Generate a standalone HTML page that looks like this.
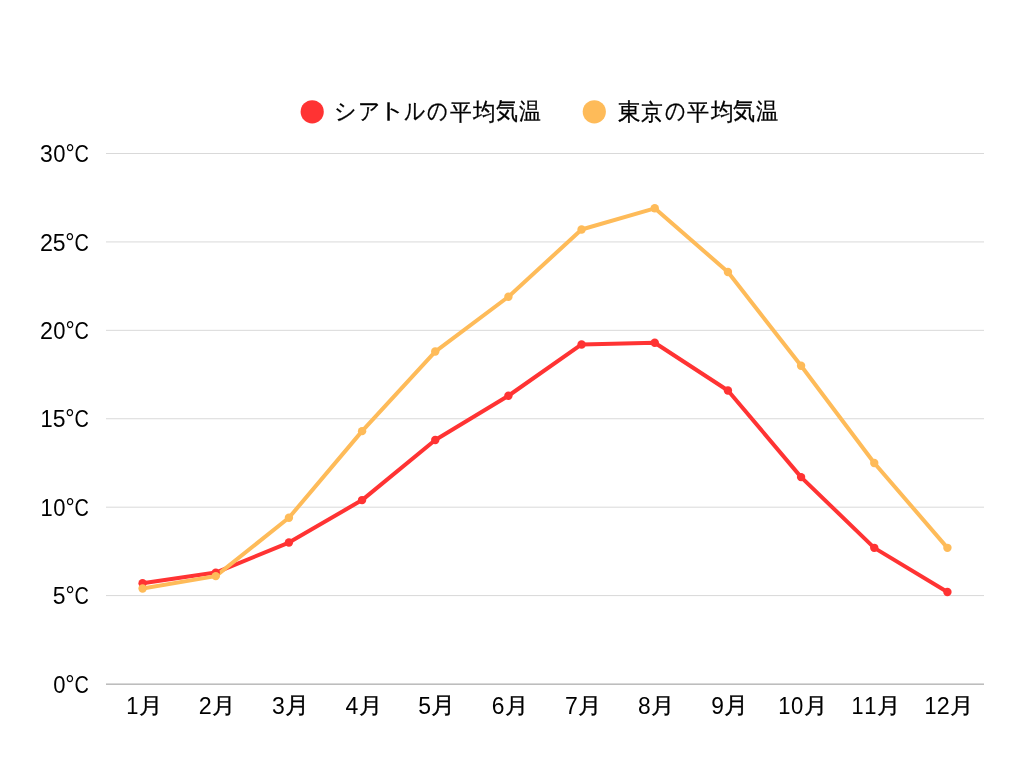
<!DOCTYPE html>
<html lang="ja"><head><meta charset="utf-8"><title>シアトルと東京の平均気温</title>
<style>
html,body{margin:0;padding:0;background:#fff;width:1024px;height:768px;overflow:hidden}
svg{display:block;will-change:transform;font-family:"Liberation Sans",sans-serif}
text{fill:#000;font-size:23px}
</style></head><body>
<svg width="1024" height="768" viewBox="0 0 1024 768">
<rect x="106" y="595.08" width="878" height="1" fill="#d9d9d9"/>
<rect x="106" y="506.67" width="878" height="1" fill="#d9d9d9"/>
<rect x="106" y="418.25" width="878" height="1" fill="#d9d9d9"/>
<rect x="106" y="329.83" width="878" height="1" fill="#d9d9d9"/>
<rect x="106" y="241.42" width="878" height="1" fill="#d9d9d9"/>
<rect x="106" y="153.00" width="878" height="1" fill="#d9d9d9"/>
<rect x="106" y="683" width="878" height="1" fill="#d8d8d8"/>
<rect x="106" y="684" width="878" height="1" fill="#bdbdbd"/>
<polyline points="142.58,583.21 215.75,572.60 288.92,542.53 362.08,500.09 435.25,439.97 508.42,395.76 581.58,344.48 654.75,342.71 727.92,390.46 801.08,477.11 874.25,547.84 947.42,592.05" fill="none" stroke="#ff3333" stroke-width="4" stroke-linejoin="round"/>
<polyline points="142.58,588.51 215.75,576.13 288.92,517.78 362.08,431.13 435.25,351.55 508.42,296.74 581.58,229.54 654.75,208.32 727.92,271.98 801.08,365.70 874.25,462.96 947.42,547.84" fill="none" stroke="#febb59" stroke-width="4" stroke-linejoin="round"/>
<circle cx="142.58" cy="583.21" r="4.2" fill="#ff3333"/><circle cx="215.75" cy="572.60" r="4.2" fill="#ff3333"/><circle cx="288.92" cy="542.53" r="4.2" fill="#ff3333"/><circle cx="362.08" cy="500.09" r="4.2" fill="#ff3333"/><circle cx="435.25" cy="439.97" r="4.2" fill="#ff3333"/><circle cx="508.42" cy="395.76" r="4.2" fill="#ff3333"/><circle cx="581.58" cy="344.48" r="4.2" fill="#ff3333"/><circle cx="654.75" cy="342.71" r="4.2" fill="#ff3333"/><circle cx="727.92" cy="390.46" r="4.2" fill="#ff3333"/><circle cx="801.08" cy="477.11" r="4.2" fill="#ff3333"/><circle cx="874.25" cy="547.84" r="4.2" fill="#ff3333"/><circle cx="947.42" cy="592.05" r="4.2" fill="#ff3333"/>
<circle cx="142.58" cy="588.51" r="4.2" fill="#febb59"/><circle cx="215.75" cy="576.13" r="4.2" fill="#febb59"/><circle cx="288.92" cy="517.78" r="4.2" fill="#febb59"/><circle cx="362.08" cy="431.13" r="4.2" fill="#febb59"/><circle cx="435.25" cy="351.55" r="4.2" fill="#febb59"/><circle cx="508.42" cy="296.74" r="4.2" fill="#febb59"/><circle cx="581.58" cy="229.54" r="4.2" fill="#febb59"/><circle cx="654.75" cy="208.32" r="4.2" fill="#febb59"/><circle cx="727.92" cy="271.98" r="4.2" fill="#febb59"/><circle cx="801.08" cy="365.70" r="4.2" fill="#febb59"/><circle cx="874.25" cy="462.96" r="4.2" fill="#febb59"/><circle cx="947.42" cy="547.84" r="4.2" fill="#febb59"/>
<circle cx="312.2" cy="111.8" r="11.6" fill="#ff3333"/>
<circle cx="594.3" cy="111.8" r="11.6" fill="#febb59"/>
<text transform="matrix(0.9579 0 0 1.0082 53.26 692.87)">0</text>
<text transform="matrix(1.0118 0 0 1.1428 65.28 692.81)">°</text>
<text transform="matrix(0.8644 0 0 1.0357 74.58 692.63)">C</text>
<text transform="matrix(0.9987 0 0 1.0468 52.80 604.27)">5</text>
<text transform="matrix(1.0012 0 0 1.0881 65.45 603.65)">°</text>
<text transform="matrix(0.8644 0 0 1.0357 74.58 604.23)">C</text>
<text transform="matrix(0.9518 0 0 1.0000 40.56 515.91)">1</text>
<text transform="matrix(0.9579 0 0 1.0082 53.25 516.04)">0</text>
<text transform="matrix(1.0027 0 0 1.1092 65.40 515.51)">°</text>
<text transform="matrix(0.8644 0 0 1.0357 74.58 515.80)">C</text>
<text transform="matrix(0.9518 0 0 1.0000 40.56 427.49)">1</text>
<text transform="matrix(0.9987 0 0 1.0468 52.78 426.79)">5</text>
<text transform="matrix(1.0118 0 0 1.1428 65.28 426.99)">°</text>
<text transform="matrix(0.8644 0 0 1.0357 74.58 427.40)">C</text>
<text transform="matrix(1.0126 0 0 1.0486 40.10 339.07)">2</text>
<text transform="matrix(0.9579 0 0 1.0082 53.25 339.20)">0</text>
<text transform="matrix(1.0027 0 0 1.1092 65.40 338.60)">°</text>
<text transform="matrix(0.8644 0 0 1.0357 74.58 338.97)">C</text>
<text transform="matrix(1.0126 0 0 1.0486 40.10 250.64)">2</text>
<text transform="matrix(0.9987 0 0 1.0468 52.78 250.58)">5</text>
<text transform="matrix(1.0118 0 0 1.1428 65.28 250.81)">°</text>
<text transform="matrix(0.8644 0 0 1.0357 74.58 250.54)">C</text>
<text transform="matrix(0.9992 0 0 1.0432 39.96 162.16)">3</text>
<text transform="matrix(0.9579 0 0 1.0082 53.25 162.37)">0</text>
<text transform="matrix(1.0012 0 0 1.0881 65.45 161.56)">°</text>
<text transform="matrix(0.8644 0 0 1.0357 74.58 162.14)">C</text>
<text transform="matrix(0.9532 0 0 0.9994 126.17 714.00)">1</text>
<text stroke="#000" stroke-width="0.3" transform="matrix(1.0370 0 0 0.9733 138.98 713.33)">月</text>
<text transform="matrix(1.0139 0 0 1.0463 198.85 714.00)">2</text>
<text stroke="#000" stroke-width="0.3" transform="matrix(1.0347 0 0 0.9757 211.99 713.01)">月</text>
<text transform="matrix(0.9990 0 0 1.0390 272.05 713.86)">3</text>
<text stroke="#000" stroke-width="0.3" transform="matrix(1.0392 0 0 0.9845 284.96 713.48)">月</text>
<text transform="matrix(1.0000 0 0 1.0000 345.40 714.00)">4</text>
<text stroke="#000" stroke-width="0.3" transform="matrix(1.0353 0 0 0.9770 358.66 713.00)">月</text>
<text transform="matrix(0.9993 0 0 1.0493 418.14 713.97)">5</text>
<text stroke="#000" stroke-width="0.3" transform="matrix(1.0477 0 0 0.9943 431.48 713.17)">月</text>
<text transform="matrix(0.9924 0 0 1.0037 491.78 714.03)">6</text>
<text stroke="#000" stroke-width="0.3" transform="matrix(1.0363 0 0 0.9765 504.63 713.00)">月</text>
<text transform="matrix(1.0000 0 0 1.0000 564.90 714.00)">7</text>
<text stroke="#000" stroke-width="0.3" transform="matrix(1.0370 0 0 0.9733 577.98 713.33)">月</text>
<text transform="matrix(0.9923 0 0 1.0013 638.09 714.02)">8</text>
<text stroke="#000" stroke-width="0.3" transform="matrix(1.0347 0 0 0.9757 650.99 713.01)">月</text>
<text transform="matrix(0.9896 0 0 1.0101 711.22 714.04)">9</text>
<text stroke="#000" stroke-width="0.3" transform="matrix(1.0392 0 0 0.9845 723.96 713.48)">月</text>
<text transform="matrix(0.9532 0 0 0.9994 778.29 714.00)">1</text>
<text transform="matrix(0.9592 0 0 1.0108 790.96 714.18)">0</text>
<text stroke="#000" stroke-width="0.3" transform="matrix(1.0363 0 0 0.9765 803.64 713.00)">月</text>
<text transform="matrix(0.9401 0 0 1.0006 851.56 714.00)">1</text>
<text transform="matrix(0.9532 0 0 0.9994 864.21 714.00)">1</text>
<text stroke="#000" stroke-width="0.3" transform="matrix(1.0370 0 0 0.9733 877.02 713.33)">月</text>
<text transform="matrix(0.9401 0 0 1.0000 924.55 714.00)">1</text>
<text transform="matrix(1.0142 0 0 1.0446 936.76 714.00)">2</text>
<text stroke="#000" stroke-width="0.3" transform="matrix(1.0370 0 0 0.9733 949.50 713.33)">月</text>
<text stroke="#000" stroke-width="0.3" transform="matrix(0.9730 0 0 1.0109 334.22 119.00)">シ</text>
<text stroke="#000" stroke-width="0.3" transform="matrix(0.9630 0 0 1.0201 357.72 119.20)">ア</text>
<text transform="matrix(1.3348 0 0 0.9598 376.25 118.34)">ト</text>
<text stroke="#000" stroke-width="0.3" transform="matrix(0.8994 0 0 1.0452 404.00 119.37)">ル</text>
<text stroke="#000" stroke-width="0.3" transform="matrix(0.8873 0 0 1.0467 427.28 119.34)">の</text>
<text stroke="#000" stroke-width="0.3" transform="matrix(0.9371 0 0 0.9892 449.52 119.88)">平</text>
<text stroke="#000" stroke-width="0.3" transform="matrix(0.9749 0 0 1.0343 472.95 119.51)">均</text>
<text stroke="#000" stroke-width="0.3" transform="matrix(0.9656 0 0 1.0509 495.85 119.33)">気</text>
<text stroke="#000" stroke-width="0.3" transform="matrix(0.9551 0 0 1.0016 519.00 119.07)">温</text>
<text stroke="#000" stroke-width="0.3" transform="matrix(0.9663 0 0 1.0259 618.17 119.79)">東</text>
<text stroke="#000" stroke-width="0.3" transform="matrix(0.9441 0 0 0.9946 641.26 119.96)">京</text>
<text stroke="#000" stroke-width="0.3" transform="matrix(0.8812 0 0 1.0540 664.55 119.24)">の</text>
<text stroke="#000" stroke-width="0.3" transform="matrix(0.9593 0 0 0.9955 687.36 119.65)">平</text>
<text stroke="#000" stroke-width="0.3" transform="matrix(0.9688 0 0 1.0245 710.70 119.89)">均</text>
<text stroke="#000" stroke-width="0.3" transform="matrix(0.9680 0 0 1.0498 733.10 119.49)">気</text>
<text stroke="#000" stroke-width="0.3" transform="matrix(0.9690 0 0 1.0006 756.31 119.46)">温</text>
</svg>
</body></html>
